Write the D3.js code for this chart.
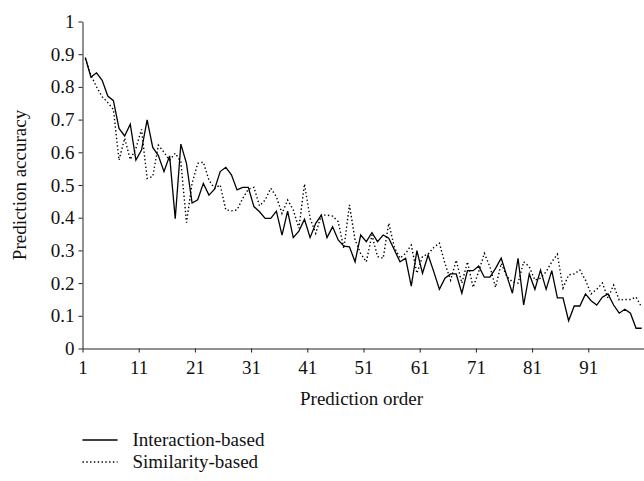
<!DOCTYPE html>
<html>
<head>
<meta charset="utf-8">
<script src="https://cdn.jsdelivr.net/npm/d3@7/dist/d3.min.js"></script>
<style>
  body { margin: 0; background: #fff; }
  svg { font-family: "Liberation Serif", "DejaVu Serif", serif; }
</style>
</head>
<body>
<div id="chart"></div>
<script>
// Prediction accuracy by prediction order
const interaction = [
  0.89, 0.83, 0.843, 0.82, 0.772, 0.758, 0.673, 0.65, 0.686, 0.576,
  0.607, 0.699, 0.615, 0.59, 0.541, 0.589, 0.397, 0.625, 0.566, 0.445,
  0.455, 0.505, 0.469, 0.487, 0.541, 0.554, 0.531, 0.485, 0.493, 0.493,
  0.434, 0.418, 0.398, 0.398, 0.42, 0.347, 0.42, 0.339, 0.359, 0.395,
  0.339, 0.383, 0.408, 0.339, 0.372, 0.332, 0.313, 0.311, 0.265, 0.347,
  0.327, 0.354, 0.327, 0.347, 0.337, 0.301, 0.265, 0.276, 0.191, 0.299,
  0.23, 0.286, 0.235, 0.181, 0.215, 0.228, 0.228, 0.169, 0.238, 0.238,
  0.252, 0.218, 0.218, 0.245, 0.276, 0.222, 0.169, 0.276, 0.133, 0.228,
  0.181, 0.24, 0.181, 0.238, 0.155, 0.155, 0.085, 0.13, 0.13, 0.167,
  0.146, 0.133, 0.157, 0.167, 0.133, 0.108, 0.12, 0.108, 0.062, 0.062
];

const similarity = [
  0.887, 0.836, 0.80, 0.77, 0.752, 0.731, 0.576, 0.643, 0.578, 0.612,
  0.67, 0.52, 0.526, 0.622, 0.60, 0.576, 0.597, 0.571, 0.385, 0.505,
  0.566, 0.57, 0.515, 0.49, 0.50, 0.424, 0.421, 0.424, 0.459, 0.487,
  0.493, 0.436, 0.454, 0.49, 0.464, 0.413, 0.454, 0.424, 0.368, 0.503,
  0.398, 0.352, 0.408, 0.408, 0.405, 0.388, 0.306, 0.439, 0.332, 0.29,
  0.265, 0.347, 0.281, 0.276, 0.383, 0.309, 0.276, 0.291, 0.316, 0.23,
  0.281, 0.289, 0.309, 0.322, 0.26, 0.209, 0.27, 0.20, 0.265, 0.187,
  0.235, 0.291, 0.25, 0.187, 0.26, 0.22, 0.204, 0.20, 0.265, 0.25,
  0.209, 0.215, 0.235, 0.265, 0.288, 0.185, 0.225, 0.228, 0.24, 0.209,
  0.167, 0.181, 0.2, 0.154, 0.194, 0.148, 0.15, 0.15, 0.157, 0.126
];

const orders = interaction.map((_, i) => i + 1);
const xTicks = [1, 11, 21, 31, 41, 51, 61, 71, 81, 91];
const yTicks = [0, 0.1, 0.2, 0.3, 0.4, 0.5, 0.6, 0.7, 0.8, 0.9, 1];

const width = 644, height = 481;
const plotLeft = 82.5, plotRight = 644.5, plotTop = 21.5, plotBottom = 348.5;
const fontSize = '19px';

const svg = d3.select('#chart')
    .append('svg')
    .attr('width', width)
    .attr('height', height);

// categories sit in bands, ticks on the band edges
const x = d3.scaleBand().domain(orders).range([plotLeft, plotRight]);
const xEdge = d3.scaleLinear().domain([1, orders.length + 1]).range([plotLeft, plotRight]);
const y = d3.scaleLinear().domain([0, 1]).range([plotBottom, plotTop]);

svg.append('g')
    .attr('transform', `translate(0,${plotBottom})`)
    .call(d3.axisBottom(xEdge)
        .tickValues(xTicks)
        .tickSize(4)
        .tickSizeOuter(0)
        .tickPadding(8)
        .tickFormat(d3.format('d')));

svg.append('g')
    .attr('transform', `translate(${plotLeft},0)`)
    .call(d3.axisLeft(y)
        .tickValues(yTicks)
        .tickSize(4)
        .tickSizeOuter(0)
        .tickPadding(4)
        .tickFormat(d => String(d)));

svg.selectAll('.domain, .tick line')
    .attr('stroke', '#222')
    .attr('stroke-width', 1);
svg.selectAll('.tick text')
    .attr('font-size', fontSize)
    .attr('fill', '#111')
    .style('font-family', '"Liberation Serif", "DejaVu Serif", serif');

const line = d3.line()
    .x((d, i) => x(orders[i]) + x.bandwidth() / 2)
    .y(d => y(d));

svg.append('path')
    .datum(similarity)
    .attr('fill', 'none')
    .attr('stroke', '#000')
    .attr('stroke-width', 1.4)
    .attr('stroke-dasharray', '1.4,2.4')
    .attr('d', line);

svg.append('path')
    .datum(interaction)
    .attr('fill', 'none')
    .attr('stroke', '#000')
    .attr('stroke-width', 1.3)
    .attr('d', line);

// axis titles
svg.append('text')
    .attr('transform', `translate(26,${(plotTop + plotBottom) / 2}) rotate(-90)`)
    .attr('text-anchor', 'middle')
    .attr('font-size', fontSize)
    .attr('fill', '#111')
    .text('Prediction accuracy');

svg.append('text')
    .attr('x', (plotLeft + plotRight) / 2 - 2)
    .attr('y', 405)
    .attr('text-anchor', 'middle')
    .attr('font-size', fontSize)
    .attr('fill', '#111')
    .text('Prediction order');

// legend
const legendItems = [
    { label: 'Interaction-based', dash: null },
    { label: 'Similarity-based', dash: '1.4,2.4' }
];

const legend = svg.append('g')
    .selectAll('g')
    .data(legendItems)
    .join('g')
    .attr('transform', (d, i) => `translate(${plotLeft},${440 + i * 22})`);

legend.append('line')
    .attr('x1', 0)
    .attr('x2', 35)
    .attr('stroke', '#000')
    .attr('stroke-width', d => d.dash ? 1.4 : 1.3)
    .attr('stroke-dasharray', d => d.dash);

legend.append('text')
    .attr('x', 50)
    .attr('dy', '0.33em')
    .attr('font-size', fontSize)
    .attr('fill', '#111')
    .text(d => d.label);
</script>
</body>
</html>
